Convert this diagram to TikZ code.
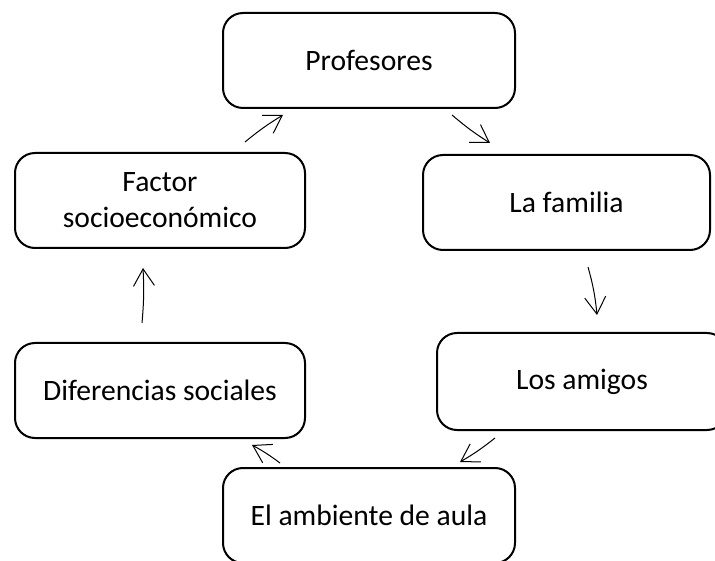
\documentclass[tikz,border=0pt]{standalone}
\usepackage{fontspec}
\setmainfont{Carlito}
\usetikzlibrary{arrows.meta}
\begin{document}
\begin{tikzpicture}[x=1pt,y=-1pt,
  box/.style={draw=black, line width=2pt, rounded corners=20pt, fill=white,
    inner sep=0pt, align=center, font=\fontsize{29.6}{36}\selectfont},
  flow/.style={line width=1pt, -{Straight Barb[length=17pt,width=21pt,line width=1pt]}}]
\clip (0,0) rectangle (715,561);
\fill[white] (0,0) rectangle (715,561);
\node[box, minimum width=292pt, minimum height=95pt] (prof) at (369,60.5) {Profesores};
\node[box, minimum width=287pt, minimum height=95pt] (fam) at (566.5,202.5) {La familia};
\node[box, minimum width=290pt, minimum height=97pt] (amig) at (582,381.5) {Los amigos};
\node[box, minimum width=292pt, minimum height=95pt] (amb) at (369,515.5) {El ambiente de aula};
\node[box, minimum width=290pt, minimum height=95pt] (dif) at (160,390.5) {Diferencias sociales};
\node[box, minimum width=290pt, minimum height=95pt] (fac) at (160,200.5) {Factor\\socioeconómico};
\coordinate (a1s) at (245,142); \coordinate (a1e) at (283,115);
\coordinate (a2s) at (452,115); \coordinate (a2e) at (490,143);
\coordinate (a3s) at (588,267); \coordinate (a3e) at (597,315);
\coordinate (a4s) at (495,438); \coordinate (a4e) at (460,462);
\coordinate (a5s) at (280,463); \coordinate (a5e) at (252,445);
\coordinate (a6s) at (142,323); \coordinate (a6e) at (143,268);
\draw[flow] (a1s) to[bend left=4] (a1e);
\draw[flow] (a2s) to[bend right=4] (a2e);
\draw[flow] (a3s) to[bend left=5] (a3e);
\draw[flow] (a4s) to[bend left=4] (a4e);
\draw[flow] (a5s) to[bend right=4] (a5e);
\draw[flow] (a6s) to[bend right=4] (a6e);
\end{tikzpicture}
\end{document}
